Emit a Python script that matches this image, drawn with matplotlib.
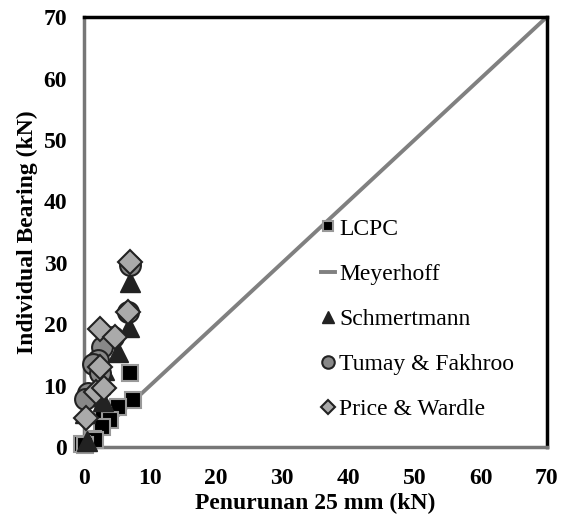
import numpy as np
import matplotlib.pyplot as plt

plt.rcParams['font.family'] = ['Liberation Serif', 'DejaVu Serif']

# data (kN)
lcpc_x = [7.0, 7.5, 5.2, 2.9, 3.9, 2.7, 1.4, 1.7, -0.3, 0.2]
lcpc_y = [12.0, 7.7, 6.6, 5.2, 4.4, 3.3, 1.4, 1.1, 0.6, 0.4]

meyer_x = [0, 70]
meyer_y = [0, 70]

schm_x = [7.0, 6.9, 5.2, 3.0, 2.4, 1.3, 2.9, 0.2, 0.5]
schm_y = [26.9, 19.5, 15.5, 12.5, 10.3, 8.3, 7.5, 5.5, 1.0]

tumay_x = [7.0, 6.7, 4.4, 2.7, 2.2, 1.4, 2.4, 0.6, 0.2]
tumay_y = [29.6, 22.0, 18.0, 16.3, 14.2, 13.5, 12.0, 8.8, 7.9]

price_x = [7.0, 6.7, 2.4, 4.7, 2.4, 1.9, 3.0, 0.4]
price_y = [30.1, 22.0, 19.2, 17.9, 13.1, 9.0, 9.6, 4.7]

ticks = [0, 10, 20, 30, 40, 50, 60, 70]

fig = plt.figure(figsize=(5.66, 5.17), dpi=100)
ax = fig.add_axes([0.148, 0.135, 0.818, 0.832])

ax.plot(lcpc_x, lcpc_y, 's', ms=12, mfc='black', mec='#999999', mew=1.5,
        label='LCPC', zorder=3, clip_on=False)
ax.plot(meyer_x, meyer_y, '-', color='#808080', lw=2.8, label='Meyerhoff',
        zorder=2)
ax.plot(schm_x, schm_y, '^', ms=14, mfc='#222222', mec='#222222',
        label='Schmertmann', zorder=4, clip_on=False)
ax.plot(tumay_x, tumay_y, 'o', ms=15, mfc='#888888', mec='#222222', mew=1.5,
        label='Tumay & Fakhroo', zorder=5, clip_on=False)
ax.plot(price_x, price_y, 'D', ms=12, mfc='#aaaaaa', mec='#222222', mew=1.5,
        label='Price & Wardle', zorder=6, clip_on=False)

ax.set_xlim(0, 70)
ax.set_ylim(0, 70)
ax.set_xticks(ticks)
ax.set_yticks(ticks)
ax.tick_params(length=0, labelsize=17)
ax.tick_params(axis='x', pad=15)
ax.tick_params(axis='y', pad=12)
for lab in ax.get_xticklabels() + ax.get_yticklabels():
    lab.set_fontweight('bold')

ax.set_xlabel('Penurunan 25 mm (kN)', fontsize=17, fontweight='bold',
              labelpad=3)
ax.set_ylabel('Individual Bearing (kN)', fontsize=17, fontweight='bold',
              labelpad=4)

for side in ['top', 'right']:
    ax.spines[side].set_color('black')
    ax.spines[side].set_linewidth(2.5)
for side in ['left', 'bottom']:
    ax.spines[side].set_color('#777777')
    ax.spines[side].set_linewidth(2.5)

leg = ax.legend(loc='upper left', bbox_to_anchor=(0.486, 0.56), frameon=False,
                fontsize=17, handlelength=0.6, handletextpad=0.2,
                labelspacing=1.0, markerscale=0.6, borderpad=0)

fig.savefig('out.png', dpi=100)
